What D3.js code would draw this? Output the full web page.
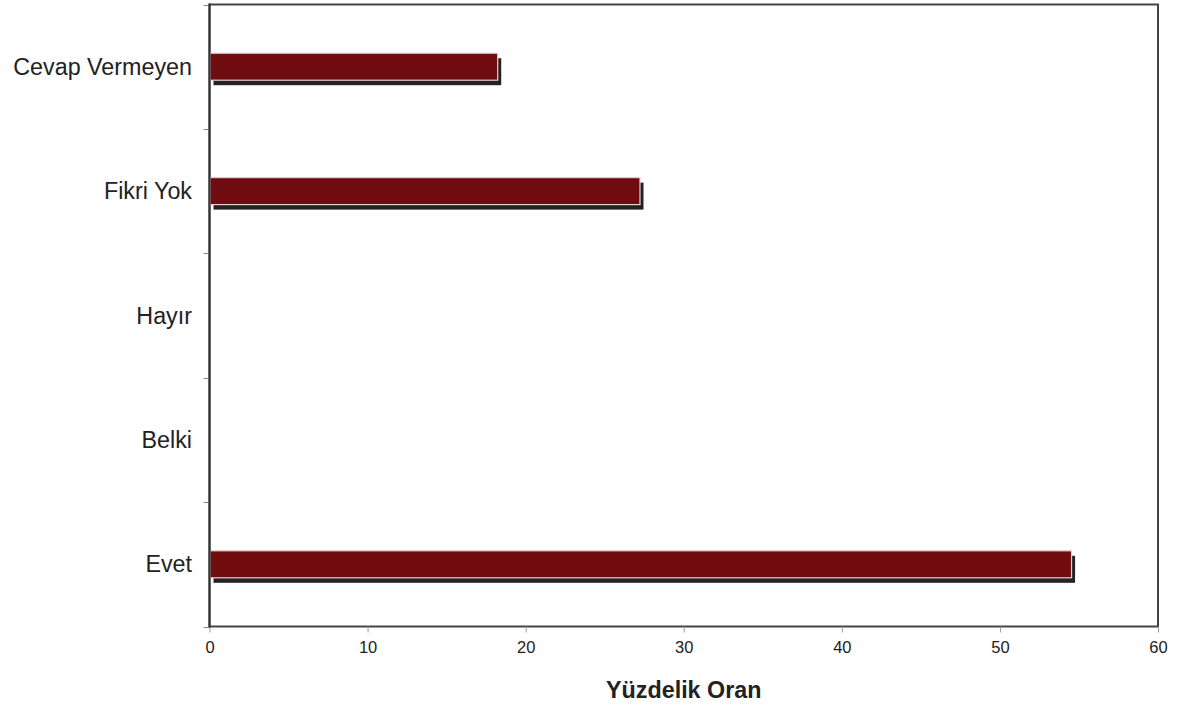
<!DOCTYPE html>
<html><head><meta charset="utf-8">
<script src="https://cdn.jsdelivr.net/npm/d3@7"></script>
<style>body{margin:0;background:#fff}svg{display:block}text{font-family:"Liberation Sans",Arial,sans-serif}</style>
</head><body><svg id="c" width="1179" height="709"></svg>
<script>
const categories = ["Cevap Vermeyen","Fikri Yok","Hayır","Belki","Evet"];
const values = [18.2, 27.2, 0, 0, 54.5];
const xTicks = [0,10,20,30,40,50,60];
const xTitle = "Yüzdelik Oran";

const svg = d3.select("#c");
const L=209.5, R=1158, T=4.5, B=626.5;
const x = d3.scaleLinear().domain([0,60]).range([L,R]);
const y = d3.scaleBand().domain(categories).range([T,B]);
const bh = 27;

// frame
svg.append("rect").attr("x",L).attr("y",T).attr("width",R-L).attr("height",B-T)
  .attr("fill","none").attr("stroke","#444").attr("stroke-width",2);

// y ticks at band boundaries
const bounds = categories.map(c=>y(c)).concat([B]);
svg.selectAll(".yt").data(bounds).join("line")
  .attr("x1",L-6).attr("x2",L).attr("y1",d=>Math.round(d)+0.5).attr("y2",d=>Math.round(d)+0.5)
  .attr("stroke","#888").attr("stroke-width",1);

// x axis ticks and labels
const xa = svg.append("g").attr("transform",`translate(0,${B})`)
  .call(d3.axisBottom(x).tickValues(xTicks).tickSize(6).tickSizeOuter(0).tickPadding(9));
xa.select(".domain").remove();
xa.selectAll("line").attr("stroke","#999");
xa.selectAll("text").attr("font-size",16.5).attr("fill","#222").attr("font-family","Liberation Sans, Arial, sans-serif");

// y labels
svg.selectAll(".yl").data(categories).join("text")
  .attr("x",192).attr("y",d=>y(d)+y.bandwidth()/2).attr("dy","0.35em")
  .attr("text-anchor","end").attr("font-size",23.3).attr("fill","#222").text(d=>d);

// bars
const data = categories.map((c,i)=>({c, v:values[i]})).filter(d=>d.v>0);
svg.selectAll(".sh").data(data).join("rect")
  .attr("x",x(0)+4).attr("y",d=>y(d.c)+y.bandwidth()/2-bh/2+5)
  .attr("width",d=>x(d.v)-x(0)).attr("height",bh).attr("fill","#222");
svg.selectAll(".br").data(data).join("rect")
  .attr("x",x(0)+0.5).attr("y",d=>y(d.c)+y.bandwidth()/2-bh/2)
  .attr("width",d=>x(d.v)-x(0)).attr("height",bh)
  .attr("fill","#700c10").attr("stroke","#e8d0d0").attr("stroke-width",1.2);

// left axis line redraw on top
svg.append("line").attr("x1",L).attr("x2",L).attr("y1",T-1).attr("y2",B+1).attr("stroke","#333").attr("stroke-width",2);

svg.append("text").attr("x",(L+R)/2).attr("y",698).attr("text-anchor","middle")
  .attr("font-size",23.3).attr("font-weight","bold").attr("fill","#222").text(xTitle);
</script></body></html>
